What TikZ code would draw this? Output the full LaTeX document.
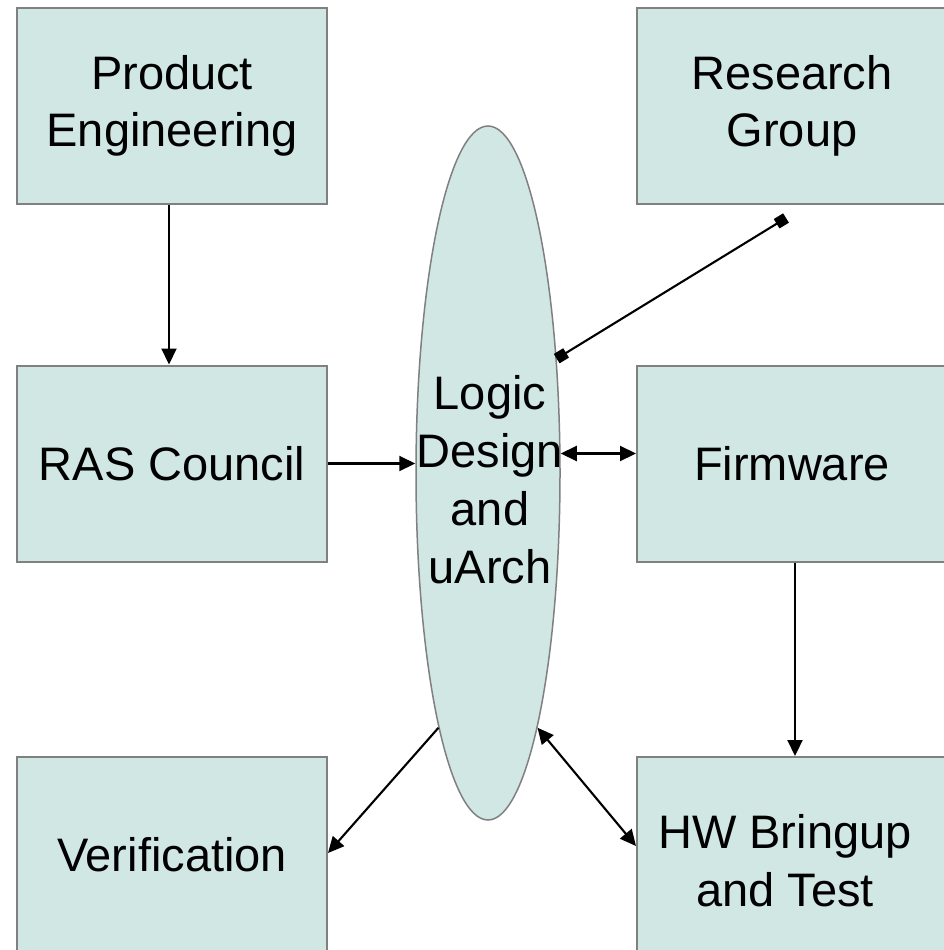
\documentclass[tikz,border=0pt]{standalone}
\usepackage{fontspec}
\setmainfont{Liberation Sans}
\usetikzlibrary{arrows.meta,shapes.geometric}
\definecolor{boxfill}{RGB}{208,231,228}
\definecolor{boxline}{RGB}{128,128,128}
\tikzset{
  unit/.style={rectangle, draw=boxline, fill=boxfill, line width=2pt,
    minimum width=310pt, minimum height=196pt, inner sep=0pt, align=center,
    font=\fontsize{47}{57}\selectfont},
  lens/.style={ellipse, draw=boxline, fill=boxfill, line width=1.5pt,
    minimum width=144pt, minimum height=694pt, inner sep=0pt},
  lenstext/.style={align=center, inner sep=0pt, font=\fontsize{47}{58}\selectfont},
  link/.style={line width=2.1pt, draw=black},
  tip/.style={-{Triangle[length=16pt,width=15pt]}},
  tips/.style={{Triangle[length=16pt,width=15pt]}-{Triangle[length=16pt,width=15pt]}},
  sq/.style={{Square[length=11pt,width=11pt]}-{Square[length=11pt,width=11pt]}}
}
\begin{document}
\begin{tikzpicture}[x=1pt,y=-1pt]
\useasboundingbox (0,0) rectangle (944,950);
\fill[white] (0,0) rectangle (944,950);
\clip (0,0) rectangle (944,950);
\node[unit] (pe)  at (172,106)   {Product\\Engineering};
\node[unit] (rg)  at (792,106)   {Research\\Group};
\node[unit] (ras) at (172,463.5) {RAS Council};
\node[unit] (fw)  at (792,463.5) {Firmware};
\node[unit] (ver) at (172,855)   {Verification};
\node[unit] (hwb) at (792,855)   {};
\node[lenstext] (hwt) at (785,861) {HW Bringup\\and Test};
\node[lens] (ell) at (488,473) {};
\node[lenstext] (lt) at (490,480) {Logic\\Design\\and\\uArch};
\coordinate (rgend) at ([xshift=-6pt,yshift=-13pt]rg.south);
\coordinate (fwin) at ([yshift=10pt]fw.west);
\draw[link,tip] ([xshift=-3pt]pe.south) -- ([xshift=-3pt]ras.north);
\draw[link,tip] (ras.east) -- (ras.east -| ell.west);
\draw[link,tips] (fwin -| ell.east) -- (fwin);
\draw[link,sq] (ell.59.6) -- (rgend);
\draw[link,tip] ([xshift=3pt]fw.south) -- ([xshift=3pt]hwb.north);
\draw[link,tip] (ell.259.5) -- ([yshift=2pt]ver.east);
\draw[link,tips] (ell.281.6) -- ([yshift=9pt]hwb.west);
\end{tikzpicture}
\end{document}
